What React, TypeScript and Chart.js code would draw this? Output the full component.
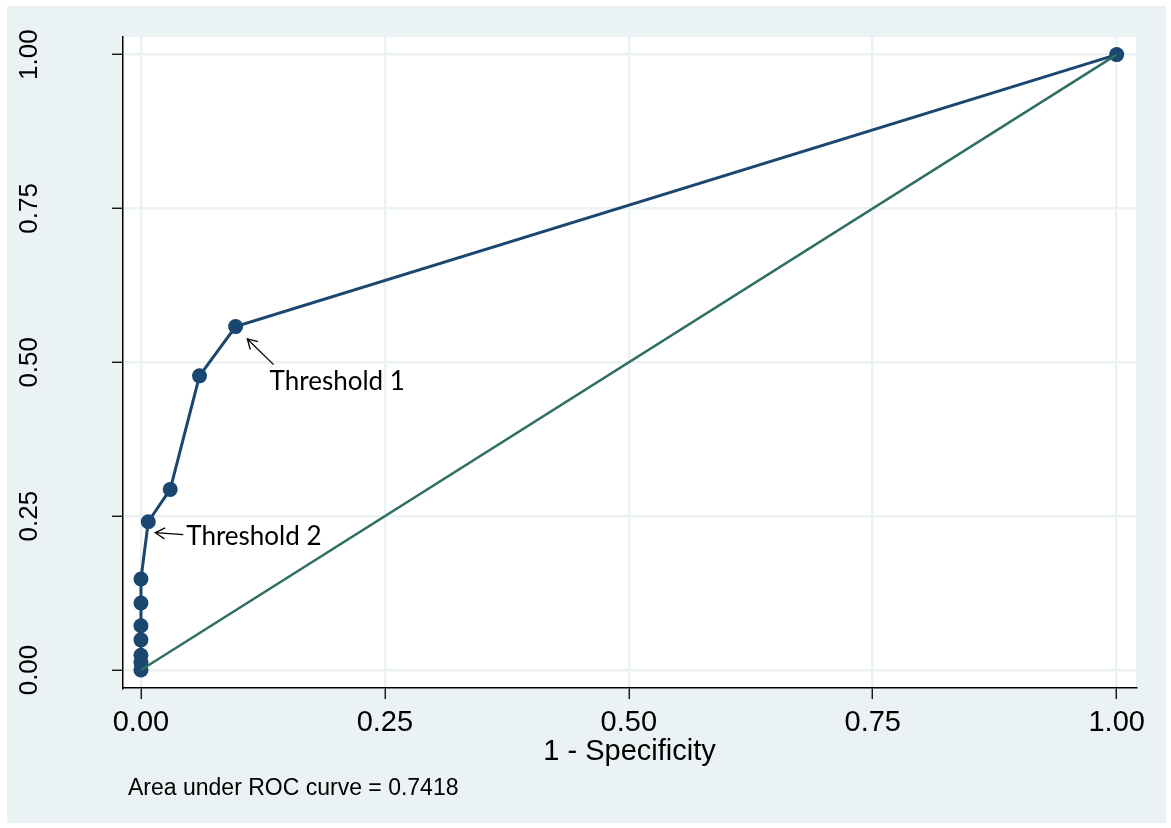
import React, { useEffect, useRef } from "react";
import { Chart, registerables } from "chart.js";

Chart.register(...registerables);

// ---- data ----
const fpr = [0, 0, 0, 0, 0, 0, 0, 0.0075, 0.03, 0.06, 0.097, 1];
const tpr = [0, 0.012, 0.024, 0.049, 0.072, 0.109, 0.148, 0.241, 0.2935, 0.478, 0.558, 1];
const refX = [0, 1];
const refY = [0, 1];
const xTickValues = [0, 0.25, 0.5, 0.75, 1];
const xTickLabels = ["0.00", "0.25", "0.50", "0.75", "1.00"];
const yTickValues = [0, 0.25, 0.5, 0.75, 1];
const yTickLabels = ["0.00", "0.25", "0.50", "0.75", "1.00"];
const xTitle = "1 - Specificity";
const aucNote = "Area under ROC curve = 0.7418";
const annotationLabels = ["Threshold 1", "Threshold 2"];
const annotationPointIndex = [10, 7];

// ---- styles ----
const W = 1171;
const H = 828;
const BG = "#eaf2f3";
const NAVY = "#1a476f";
const GREEN = "#2e6f63";
const SANS = "'Liberation Sans', Arial, sans-serif";
// per-annotation pixel offsets relative to the marked point: tip, tail, text
const annotationStyle = [
  { tip: [11.7, 12.3], tail: [38, 38], text: [34, 63] },
  { tip: [7, 11], tail: [35, 13], text: [38, 23] },
];

const bgPlugin = {
  id: "bg",
  beforeDraw(chart: any) {
    const { ctx, chartArea } = chart;
    ctx.save();
    ctx.fillStyle = "#ffffff";
    ctx.fillRect(0, 0, W, H);
    ctx.fillStyle = BG;
    ctx.fillRect(7, 6, 1159, 817);
    ctx.fillStyle = "#ffffff";
    ctx.fillRect(chartArea.left, chartArea.top, chartArea.right - chartArea.left, chartArea.bottom - chartArea.top);
    ctx.restore();
  },
};

const textPlugin = {
  id: "texts",
  afterDraw(chart: any) {
    const { ctx } = chart;
    const y = chart.scales.y;
    const x = chart.scales.x;
    ctx.save();
    // y tick labels, rotated
    ctx.fillStyle = "#000";
    ctx.font = `26px ${SANS}`;
    ctx.textAlign = "center";
    ctx.textBaseline = "middle";
    yTickValues.forEach((v, i) => {
      const py = y.getPixelForValue(v);
      ctx.save();
      ctx.translate(30, py);
      ctx.rotate(-Math.PI / 2);
      ctx.fillText(yTickLabels[i], 0, 0);
      ctx.restore();
    });
    // note
    ctx.textAlign = "left";
    ctx.textBaseline = "alphabetic";
    ctx.font = `23px ${SANS}`;
    ctx.fillText(aucNote, 128, 795);

    // annotations
    annotationLabels.forEach((label, i) => {
      const idx = annotationPointIndex[i];
      const px = x.getPixelForValue(fpr[idx]);
      const py = y.getPixelForValue(tpr[idx]);
      const st = annotationStyle[i];
      const tx = px + st.tip[0], ty = py + st.tip[1];
      const sx = px + st.tail[0], sy = py + st.tail[1];
      ctx.strokeStyle = "#000";
      ctx.lineWidth = 1.3;
      ctx.beginPath();
      ctx.moveTo(sx, sy);
      ctx.lineTo(tx, ty);
      const ang = Math.atan2(sy - ty, sx - tx);
      const len = 11;
      const spread = (30 * Math.PI) / 180;
      ctx.moveTo(tx + len * Math.cos(ang + spread), ty + len * Math.sin(ang + spread));
      ctx.lineTo(tx, ty);
      ctx.lineTo(tx + len * Math.cos(ang - spread), ty + len * Math.sin(ang - spread));
      ctx.stroke();
      ctx.font = `26px Lato, 'Open Sans', sans-serif`;
      ctx.fillStyle = "#000";
      ctx.fillText(label, px + st.text[0], py + st.text[1]);
    });
    ctx.restore();
  },
};

export default function App() {
  const ref = useRef<HTMLCanvasElement | null>(null);
  useEffect(() => {
    document.body.style.margin = "0";
    const canvas = ref.current!;
    const chart = new Chart(canvas, {
      type: "scatter",
      data: {
        datasets: [
          {
            data: refX.map((v, i) => ({ x: v, y: refY[i] })),
            showLine: true,
            borderColor: GREEN,
            borderWidth: 2.5,
            pointRadius: 0,
            order: 0,
          },
          {
            data: fpr.map((v, i) => ({ x: v, y: tpr[i] })),
            showLine: true,
            borderColor: NAVY,
            borderWidth: 3,
            pointRadius: 7.5,
            pointBackgroundColor: NAVY,
            pointBorderColor: NAVY,
            pointBorderWidth: 0,
            order: 1,
          },
        ],
      },
      options: {
        responsive: false,
        devicePixelRatio: 1,
        animation: false,
        layout: { padding: { left: 0, top: 37, right: 35, bottom: 0 } },
        plugins: { legend: { display: false }, tooltip: { enabled: false } },
        scales: {
          x: {
            type: "linear",
            min: -0.0184,
            max: 1.0198,
            afterBuildTicks: (s: any) => {
              s.ticks = xTickValues.map((v) => ({ value: v }));
            },
            afterFit: (s: any) => {
              s.height = 140;
            },
            ticks: {
              callback: (_v: any, i: number) => xTickLabels[i],
              font: { family: SANS, size: 29 },
              color: "#000",
              padding: 7,
              maxRotation: 0,
              minRotation: 0,
            },
            grid: {
              color: BG,
              lineWidth: 2.5,
              tickColor: "#000",
              tickLength: 11,
              tickWidth: 1.3,
            },
            border: { display: true, color: "#000", width: 1.5 },
            title: {
              display: true,
              text: xTitle,
              color: "#000",
              font: { family: SANS, size: 29, lineHeight: 1.2 },
              padding: { top: 0, bottom: 59 },
            },
          },
          y: {
            type: "linear",
            min: -0.0292,
            max: 1.0286,
            afterBuildTicks: (s: any) => {
              s.ticks = yTickValues.map((v) => ({ value: v }));
            },
            afterFit: (s: any) => {
              s.width = 123;
            },
            ticks: { display: false },
            grid: {
              color: BG,
              lineWidth: 2.5,
              tickColor: "#000",
              tickLength: 11,
              tickWidth: 1.3,
            },
            border: { display: true, color: "#000", width: 1.5 },
          },
        },
      },
      plugins: [bgPlugin, textPlugin],
    } as any);
    return () => chart.destroy();
  }, []);
  return (
    <div style={{ width: W, height: H }}>
      <canvas ref={ref} width={W} height={H} style={{ width: W, height: H, display: "block" }} />
    </div>
  );
}
